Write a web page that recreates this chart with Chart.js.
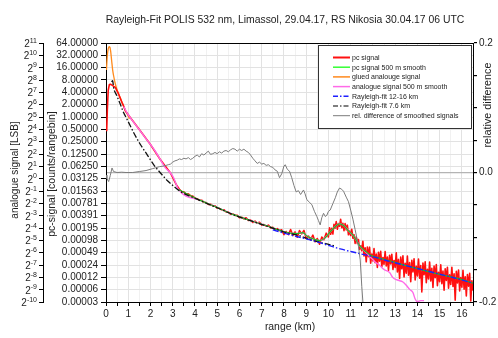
<!DOCTYPE html>
<html><head><meta charset="utf-8">
<script src="https://cdn.jsdelivr.net/npm/chart.js@4"></script>
<style>html,body{margin:0;padding:0;background:#fff;}canvas{display:block}</style>
</head><body>
<canvas id="c" width="498" height="338"></canvas>
<script>
const FONT = '"Liberation Sans", Arial, sans-serif';
const chartTitle = 'Rayleigh-Fit POLIS 532 nm, Limassol, 29.04.17, RS Nikosia 30.04.17 06 UTC';
const xTitle = 'range (km)';
const pcTitle = 'pc-signal [counts/rangebin]';
const anaTitle = 'analogue signal [LSB]';
const relTitle = 'relative difference';

const xTickValues = [0,0.5,1,1.5,2,2.5,3,3.5,4,4.5,5,5.5,6,6.5,7,7.5,8,8.5,9,9.5,10,10.5,11,11.5,12,12.5,13,13.5,14,14.5,15,15.5,16,16.5];
const xTickLabels = ['0','','1','','2','','3','','4','','5','','6','','7','','8','','9','','10','','11','','12','','13','','14','','15','','16',''];
const pcTickValues = [0.000030517578125,0.00006103515625,0.0001220703125,0.000244140625,0.00048828125,0.0009765625,0.001953125,0.00390625,0.0078125,0.015625,0.03125,0.0625,0.125,0.25,0.5,1,2,4,8,16,32,64];
const pcTickLabels = ['0.00003','0.00006','0.00012','0.00024','0.00049','0.00098','0.00195','0.00391','0.00781','0.01563','0.03125','0.06250','0.12500','0.25000','0.50000','1.00000','2.00000','4.00000','8.00000','16.00000','32.00000','64.00000'];
const anaTickValues = [0.0009765625,0.001953125,0.00390625,0.0078125,0.015625,0.03125,0.0625,0.125,0.25,0.5,1,2,4,8,16,32,64,128,256,512,1024,2048];
const anaTickExponents = ['-10','-9','-8','-7','-6','-5','-4','-3','-2','-1','0','1','2','3','4','5','6','7','8','9','10','11'];
const relTickValues = [-0.2,-0.15,-0.1,-0.05,0,0.05,0.1,0.15,0.2];
const relTickLabels = ['-0.2','','','','0.0','','','','0.2'];

// pc signal (red) near range
const pcNearRange = [0.03,0.06,0.1,0.15,0.2,0.27,0.35,0.42,0.5,0.57,0.65,0.72,0.8,0.87,1.09,1.54,1.99,2.44,2.89,3.16];
const pcNear = [0.45,1.5,4.5,6.2,6.3,6.0,5.6,5.3,4.3,3.6,2.8,2.25,1.8,1.42,0.97,0.46,0.216,0.092,0.0436,0.0224];
// pc signal far range, rangebins from 3.3 km every 0.1 km
const pcFarAStart = 3.3, pcFarAStep = 0.1;
const pcFarA = [0.01727,0.01518,0.01487,0.01319,0.0133,0.01198,0.01183,0.01037,0.01015,0.00926,
0.00932,0.00827,0.00818,0.00732,0.00745,0.00678,0.00676,0.00598,0.0059,0.00543,
0.00547,0.00484,0.00479,0.00427,0.00434,0.00397,0.004,0.00349,0.00358,0.00327,
0.00347,0.00297,0.00305,0.00266,0.00288,0.00258,0.00269,0.0023,0.00237,0.00216,
0.0023,0.00197,0.00202,0.00176,0.00189,0.00169,0.00176,0.001344,0.001606,0.001348,
0.001795,0.001279,0.001565,0.001161,0.001689,0.0014,0.001712,0.001084,0.001244,0.001018,
0.001311,0.000905,0.001084,0.000788,0.001169,0.001018,0.00146,0.001178];
// pc signal far range, rangebins from 10.05 km every 0.05 km
const pcFarBStart = 10.05, pcFarBStep = 0.05;
const pcFarB = [0.00198,0.001371,0.001927,0.00139,0.002389,0.001927,0.002801,0.001822,0.002506,0.002152,
0.003174,0.00198,0.002541,0.001677,0.002506,0.001761,0.002291,0.001334,0.001653,0.001279,
0.001822,0.001099,0.001344,0.000821,0.001186,0.000815,0.001025,0.000589,0.00072,0.000545,
0.00093,0.000405,0.00064,0.000292,0.000665,0.000391,0.000665,0.000271,0.000452,0.000307,
0.000618,0.000277,0.000452,0.000213,0.0005,0.000303,0.000529,0.000223,0.000373,0.000254,
0.00052,0.000233,0.000383,0.000181,0.000424,0.000258,0.000448,0.000189,0.000315,0.000214,
0.000482,0.000166,0.000334,0.000114,0.00038,0.000197,0.000408,0.000125,0.000267,0.000155,
0.000402,0.000137,0.000279,0.0000958,0.000318,0.000166,0.000345,0.000106,0.000226,0.000132,
0.000343,0.000117,0.000237,0.0000539,0.000271,0.000141,0.000294,0.00009,0.000193,0.000112,
0.00029,0.0000999,0.000203,0.0000691,0.000231,0.00012,0.000249,0.0000767,0.000163,0.0000951,
0.000248,0.0000851,0.000173,0.0000593,0.000198,0.000103,0.000216,0.0000659,0.000141,0.0000822,
0.000214,0.0000736,0.000149,0.0000339,0.000171,0.0000894,0.000185,0.0000569,0.000121,0.0000701,
0.000181,0.0000623,0.000125,0.0000428,0.000143,0.0000741,0.000153,0.0000323,0.000101,0.0000581];

// pc signal 500 m smooth (green)
const pcSmoothRange = [3.26,4.24,4.99,5.74,6.49,7.23,7.98,8.28,8.6,8.85,9.03,9.33,9.63,9.85,10.08,10.3,10.5,10.7,10.9,11.13,11.35,11.5,11.7,11.9,12.2,12.8,13.5,14.3,15.0,15.8,16.5];
const pcSmooth = [0.017,0.00923,0.00622,0.00413,0.00298,0.00221,0.0016,0.00146,0.00143,0.0015,0.00125,0.00105,0.00096,0.00112,0.00158,0.0021,0.00247,0.00221,0.00167,0.00125,0.0008,0.00063,0.00051,0.00042,0.00037,0.000305,0.000234,0.000181,0.000144,0.000115,0.000088];

// glued analogue signal (orange)
const gluedRange = [0.02,0.06,0.1,0.14,0.18,0.21,0.26,0.3,0.34,0.42,0.49,0.57,0.65,0.72,0.8,0.87,0.95,1.05];
const glued = [14,32,46,52,50,40,22,14,10.3,6.4,4.8,3.6,2.85,2.28,1.8,1.42,1.2,0.9];

// analogue signal 500 m smooth (pink)
const anaSmoothRange = [0.8,0.95,1.09,1.31,1.54,1.76,1.99,2.21,2.44,2.66,2.89,3.04,3.16,3.26,4.24,4.99,5.74,6.49,7.23,7.98,8.28,8.6,8.85,9.03,9.33,9.63,9.85,10.08,10.3,10.5,10.7,10.9,11.13,11.35,11.5,11.7,11.9,12.1,12.3,12.5,12.75,12.9,13.1,13.35,13.5,13.65,13.8,13.9,14.0,14.15,14.3];
const anaSmooth = [1.8,1.25,0.97,0.67,0.457,0.314,0.216,0.148,0.092,0.058,0.0436,0.033,0.0224,0.017,0.00923,0.00622,0.00413,0.00298,0.00221,0.0016,0.00146,0.00143,0.0015,0.00125,0.00105,0.00096,0.00112,0.00158,0.0021,0.00247,0.00221,0.00167,0.00125,0.0008,0.00062,0.00049,0.00037,0.00029,0.00024,0.00019,0.00016,0.00012,0.000105,0.000094,0.000078,0.000062,0.000052,0.000036,0.000031,0.000033,0.000033];

// Rayleigh-fit 12-16 km (blue)
const fit1216Range = [7.5,8.28,9.18,10.08,10.53,11.28,12.03,12.77,14.27,15.77,16.5];
const fit1216 = [0.00176,0.00133,0.001,0.000714,0.000603,0.00048,0.000384,0.000297,0.000184,0.000114,0.0000881];

// Rayleigh-fit 7.6 km (black)
const fit76Range = [0.25,0.3,0.34,0.49,0.64,0.79,0.94,1.09,1.24,1.54,1.84,2.14,2.44,2.74,3.04,3.26,4.24,5.0,5.74,6.49,7.23,7.98,8.73,9.18,10.08,10.3];
const fit76 = [7.2,7.7,5.3,3.3,2.07,1.29,0.89,0.61,0.42,0.216,0.123,0.069,0.0436,0.0287,0.0205,0.0163,0.0091,0.0061,0.0041,0.00295,0.00218,0.00158,0.00125,0.00101,0.00076,0.00071];

// rel. difference of smoothed signals (grey, right axis)
const relRange = [0,0.04,0.12,0.19,0.27,0.34,0.5,0.7,0.9,1.2,1.5,1.8,2.1,2.4,2.6,2.8,2.9,3.0,3.1,3.2,3.3,3.4,3.5,3.6,3.7,3.8,3.9,4.0,4.1,4.2,4.3,4.4,4.5,4.6,4.7,4.8,4.9,5.0,5.1,5.2,5.3,5.4,5.5,5.6,5.7,5.8,5.9,6.0,6.1,6.2,6.3,6.4,6.5,6.6,6.7,6.8,6.9,7.0,7.1,7.2,7.3,7.4,7.5,7.6,7.7,7.8,7.9,8.0,8.06,8.15,8.25,8.35,8.45,8.55,8.65,8.75,8.88,8.95,9.03,9.15,9.26,9.37,9.48,9.55,9.63,9.7,9.78,9.86,9.93,10.0,10.08,10.2,10.31,10.4,10.5,10.6,10.68,10.8,10.9,11.0,11.1,11.2,11.3,11.35,11.43,11.5,11.55];
const relDiff = [-0.004,-0.009,-0.014,-0.005,0.007,0.0015,0,0.0005,0,0,0.0015,0.003,0.006,0.009,0.010,0.012,0.013,0.016,0.018,0.019,0.021,0.020,0.022,0.021,0.023,0.020,0.022,0.025,0.027,0.024,0.029,0.027,0.030,0.033,0.028,0.029,0.031,0.029,0.032,0.030,0.033,0.034,0.032,0.035,0.037,0.036,0.033,0.036,0.034,0.036,0.033,0.031,0.027,0.022,0.018,0.014,0.016,0.013,0.014,0.011,0.012,0.009,0.008,0.004,0.002,-0.008,-0.002,0.010,0.012,0.005,0.002,-0.008,-0.020,-0.030,-0.028,-0.034,-0.027,-0.033,-0.042,-0.046,-0.050,-0.060,-0.068,-0.074,-0.081,-0.070,-0.063,-0.068,-0.066,-0.060,-0.058,-0.048,-0.039,-0.030,-0.024,-0.026,-0.029,-0.038,-0.045,-0.058,-0.072,-0.088,-0.105,-0.114,-0.135,-0.176,-0.200];

const legendLabels = ['pc signal','pc signal 500 m smooth','glued analouge signal','analogue signal 500 m smooth','Rayleigh-fit 12-16 km','Rayleigh-fit 7.6 km','rel. difference of smoothed signals'];

const C_RED='#ff1010', C_GREEN='#22c022', C_ORANGE='#ff8a1c', C_PINK='#ff6ae8', C_BLUE='#1f1fff', C_BLACK='#111111', C_GREY='#7c7c7c';
const DASHDOT=[6,2,1.5,2];

function xy(r, v){ return r.map((x,i)=>({x:x, y:v[i]})); }
function grid(start, step, v){ return v.map((y,i)=>({x:+(start+i*step).toFixed(3), y:y})); }

const pcData = xy(pcNearRange, pcNear).concat(grid(pcFarAStart, pcFarAStep, pcFarA), grid(pcFarBStart, pcFarBStep, pcFarB));

const datasets = [
  {label:legendLabels[6], data:xy(relRange, relDiff), borderColor:C_GREY, borderWidth:1, yAxisID:'yRel'},
  {label:legendLabels[4], data:xy(fit1216Range, fit1216), borderColor:C_BLUE, borderWidth:1.4, borderDash:DASHDOT, yAxisID:'yPc', cubicInterpolationMode:'monotone'},
  {label:legendLabels[5], data:xy(fit76Range, fit76), borderColor:C_BLACK, borderWidth:1.3, borderDash:DASHDOT, yAxisID:'yPc', cubicInterpolationMode:'monotone'},
  {label:legendLabels[1], data:xy(pcSmoothRange, pcSmooth), borderColor:C_GREEN, borderWidth:1.2, yAxisID:'yPc', cubicInterpolationMode:'monotone'},
  {label:legendLabels[3], data:xy(anaSmoothRange, anaSmooth), borderColor:C_PINK, borderWidth:1.4, yAxisID:'yPc', cubicInterpolationMode:'monotone'},
  {label:legendLabels[0], data:pcData, borderColor:C_RED, borderWidth:1.6, yAxisID:'yPc'},
  {label:legendLabels[2], data:xy(gluedRange, glued), borderColor:C_ORANGE, borderWidth:1.3, yAxisID:'yPc', cubicInterpolationMode:'monotone'}
];

const legendStyles = [
  {c:C_RED, w:2, d:[]},{c:'#33ff33', w:1.5, d:[]},{c:C_ORANGE, w:1.5, d:[]},{c:C_PINK, w:1.5, d:[]},
  {c:C_BLUE, w:1.5, d:[5,2,1.5,2]},{c:'#555', w:1.5, d:[5,2,1.5,2]},{c:C_GREY, w:1, d:[]}
];

const deco = {
  id:'deco',
  afterDatasetsDraw(chart){
    const ctx = chart.ctx;
    ctx.save();
    ctx.fillStyle='#fff'; ctx.fillRect(318.5,45.5,153,83);
    ctx.strokeStyle='#333'; ctx.lineWidth=1; ctx.strokeRect(318.5,45.5,153,83);
    ctx.font='7px '+FONT; ctx.textBaseline='middle'; ctx.textAlign='left';
    for(let i=0;i<legendLabels.length;i++){
      const y = 57.5 + 9.7*i, s = legendStyles[i];
      ctx.beginPath(); ctx.setLineDash(s.d); ctx.strokeStyle=s.c; ctx.lineWidth=s.w;
      ctx.moveTo(333,y); ctx.lineTo(350,y); ctx.stroke();
      ctx.setLineDash([]); ctx.fillStyle='#222'; ctx.fillText(legendLabels[i], 352, y+0.5);
    }
    ctx.restore();
  },
  afterDraw(chart){
    const ctx = chart.ctx, a = chart.chartArea;
    ctx.save();
    ctx.strokeStyle='#000'; ctx.lineWidth=1;
    ctx.beginPath(); ctx.moveTo(a.left, Math.round(a.top)+0.5); ctx.lineTo(a.right, Math.round(a.top)+0.5); ctx.stroke();
    ctx.fillStyle='#222'; ctx.textAlign='center'; ctx.textBaseline='middle';
    ctx.font='10.4px '+FONT; ctx.fillText(chartTitle, 285, 20);
    ctx.font='10.4px '+FONT; ctx.fillText(xTitle, 290, 327);
    ctx.save(); ctx.translate(15, 170); ctx.rotate(-Math.PI/2); ctx.font='10px '+FONT; ctx.fillText(anaTitle,0,0); ctx.restore();
    ctx.save(); ctx.translate(52, 174); ctx.rotate(-Math.PI/2); ctx.font='10.5px '+FONT; ctx.fillText(pcTitle,0,0); ctx.restore();
    ctx.save(); ctx.translate(488, 105); ctx.rotate(-Math.PI/2); ctx.font='10.8px '+FONT; ctx.fillText(relTitle,0,0); ctx.restore();
    const sa = chart.scales.yAna;
    ctx.textAlign='right'; ctx.textBaseline='alphabetic';
    for(let i=0;i<anaTickValues.length;i++){
      const y = sa.getPixelForValue(anaTickValues[i]);
      ctx.font='7px '+FONT;
      const ew = ctx.measureText(anaTickExponents[i]).width;
      ctx.fillText(anaTickExponents[i], 37, y-0.5);
      ctx.font='10px '+FONT;
      ctx.fillText('2', 37-ew, y+4);
    }
    ctx.restore();
  }
};

const tickFont = {family:FONT, size:10};
new Chart(document.getElementById('c'), {
  type:'line',
  data:{datasets:datasets},
  options:{
    responsive:false, animation:false, devicePixelRatio:1,
    layout:{padding:{top:43,left:0,right:0,bottom:0}},
    plugins:{legend:{display:false}, tooltip:{enabled:false}, title:{display:false}},
    elements:{point:{radius:0}, line:{tension:0, borderJoinStyle:'round'}},
    scales:{
      x:{type:'linear', min:0, max:16.5,
        afterBuildTicks:s=>{s.ticks = xTickValues.map(v=>({value:v}));},
        afterFit:s=>{s.height=36;},
        ticks:{autoSkip:false, maxRotation:0, padding:2, font:tickFont, color:'#222', callback:(v,i)=>xTickLabels[i]},
        grid:{color:c=>(c.tick && c.tick.value%1===0)?'#e2e2e2':'#f1f1f1', tickLength:4, tickColor:'#000'},
        border:{color:'#000', width:1}},
      yPc:{type:'logarithmic', position:'left', weight:0, min:0.000030517578125, max:64,
        afterBuildTicks:s=>{s.ticks = pcTickValues.map(v=>({value:v}));},
        afterFit:s=>{s.width=63;},
        ticks:{autoSkip:false, padding:3, font:tickFont, color:'#222', callback:(v,i)=>pcTickLabels[i]},
        grid:{color:'#e2e2e2', tickLength:5, tickColor:'#000'},
        border:{color:'#000', width:1}},
      yAna:{type:'logarithmic', position:'left', weight:1, min:0.0009765625, max:2048,
        afterBuildTicks:s=>{s.ticks = anaTickValues.map(v=>({value:v}));},
        afterFit:s=>{s.width=43;},
        ticks:{autoSkip:false, padding:2, font:tickFont, color:'#222', callback:()=>''},
        grid:{drawOnChartArea:false, tickLength:4, tickColor:'#000'},
        border:{color:'#000', width:1}},
      yRel:{type:'linear', position:'right', min:-0.2, max:0.2,
        afterBuildTicks:s=>{s.ticks = relTickValues.map(v=>({value:v}));},
        afterFit:s=>{s.width=25;},
        ticks:{autoSkip:false, padding:2, font:tickFont, color:'#222', callback:(v,i)=>relTickLabels[i]},
        grid:{color:c=>(c.tick && Math.abs(c.tick.value)<1e-9)?'#b4b4b4':'rgba(0,0,0,0)', lineWidth:1.2, tickLength:4, tickColor:'#000'},
        border:{color:'#000', width:1}}
    }
  },
  plugins:[deco]
});
</script>
</body></html>
